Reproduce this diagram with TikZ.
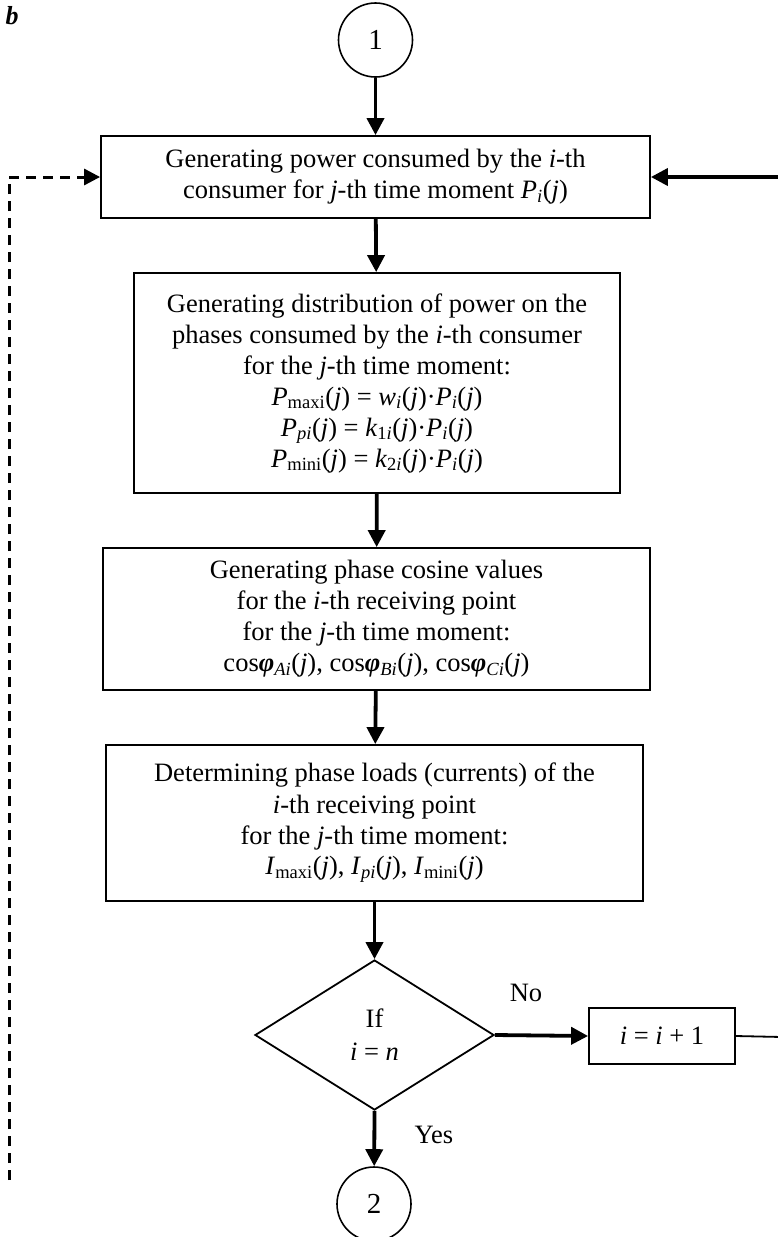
\documentclass[tikz,border=0pt]{standalone}
\usepackage{fontspec}
\setmainfont{Liberation Serif}
\usetikzlibrary{arrows.meta,shapes.geometric}
\newcommand{\iv}[1]{\textit{#1}}
\newcommand{\sbs}[1]{\textsubscript{#1}}
\begin{document}
\begin{tikzpicture}[x=1pt,y=-1pt,
  every node/.style={font=\fontsize{26.5}{31}\selectfont},
  proc/.style={draw, line width=1.8pt, align=center, inner sep=0pt},
  conn/.style={draw, circle, line width=1.6pt, minimum size=74pt, inner sep=0pt,
    font=\fontsize{29}{31}\selectfont},
  decision/.style={draw, diamond, line width=1.8pt, align=center, inner sep=0pt,
    minimum width=239pt, minimum height=150pt},
  arr/.style={line width=3.8pt, -{Triangle[length=17pt,width=17pt]}},
  thinline/.style={line width=1.8pt},
  dashline/.style={line width=3pt, dash pattern=on 10pt off 7pt, -{Triangle[length=16pt,width=16pt]}},
  lbl/.style={inner sep=0pt}
]
\useasboundingbox (0,0) rectangle (777,1237);

% panel letter
\node[lbl, font=\fontsize{26}{30}\selectfont\bfseries\itshape] (panel) at (12,16) {b};

% connectors (start / end)
\node[conn] (c1) at (375.5,40) {1};
\node[conn] (c2) at (374,1204) {2};

% process blocks
\node[proc, minimum width=549pt, minimum height=82pt] (b1) at (375.5,177)
  {Generating power consumed by the \iv{i}-th\\
   consumer for \iv{j}-th time moment \iv{P}\sbs{\iv{i}}(\iv{j})};

\node[proc, minimum width=486pt, minimum height=220pt] (b2) at (377,383)
  {Generating distribution of power on the\\
   phases consumed by the \iv{i}-th consumer\\
   for the \iv{j}-th time moment:\\
   \iv{P}\sbs{maxi}(\iv{j}) = \iv{w}\sbs{\iv{i}}(\iv{j})·\iv{P}\sbs{\iv{i}}(\iv{j})\\
   \iv{P}\sbs{\iv{pi}}(\iv{j}) = \iv{k}\sbs{1\iv{i}}(\iv{j})·\iv{P}\sbs{\iv{i}}(\iv{j})\\
   \iv{P}\sbs{mini}(\iv{j}) = \iv{k}\sbs{2\iv{i}}(\iv{j})·\iv{P}\sbs{\iv{i}}(\iv{j})};

\node[proc, minimum width=547pt, minimum height=142pt] (b3) at (376.5,619)
  {Generating phase cosine values\\
   for the \iv{i}-th receiving point\\
   for the \iv{j}-th time moment:\\
   cos\textbf{\iv{φ}}\sbs{\iv{Ai}}(\iv{j}), cos\textbf{\iv{φ}}\sbs{\iv{Bi}}(\iv{j}), cos\textbf{\iv{φ}}\sbs{\iv{Ci}}(\iv{j})};

\node[proc, minimum width=537pt, minimum height=156pt] (b4) at (374.5,823)
  {Determining phase loads (currents) of the\\
   \iv{i}-th receiving point\\
   for the \iv{j}-th time moment:\\
   \iv{I}\sbs{maxi}(\iv{j}), \iv{I}\sbs{\iv{pi}}(\iv{j}), \iv{I}\sbs{mini}(\iv{j})};

% decision and counter increment
\node[decision] (d) at (374.5,1035) {If\\[2pt] \iv{i} = \iv{n}};
\node[proc, minimum width=146pt, minimum height=56pt] (inc) at (662,1036) {\iv{i} = \iv{i} + 1};

\node[lbl] (no) at (526,993) {No};
\node[lbl] (yes) at (434,1135) {Yes};

% loop-back corners
\coordinate (rb) at (782,1037);
\coordinate (rt) at (782,177);
\coordinate (lb) at (9,1180);
\coordinate (lt) at (9,177);

% main flow
\draw[arr] (c1) -- (b1);
\draw[arr] (b1) -- (b2);
\draw[arr] (b2) -- (b3);
\draw[arr] (b3) -- (b4);
\draw[arr] (b4) -- (d);
\draw[arr] (d.east) -- (inc.west);
\draw[arr] (d.south) -- (c2);

% return to the next consumer
\draw[thinline] (inc.east) -- (rb) -- (rt);
\draw[arr] (rt) -- (b1.east);

% return to the next time moment
\draw[dashline] (lb) -- (lt) -- (b1.west);
\end{tikzpicture}
\end{document}
